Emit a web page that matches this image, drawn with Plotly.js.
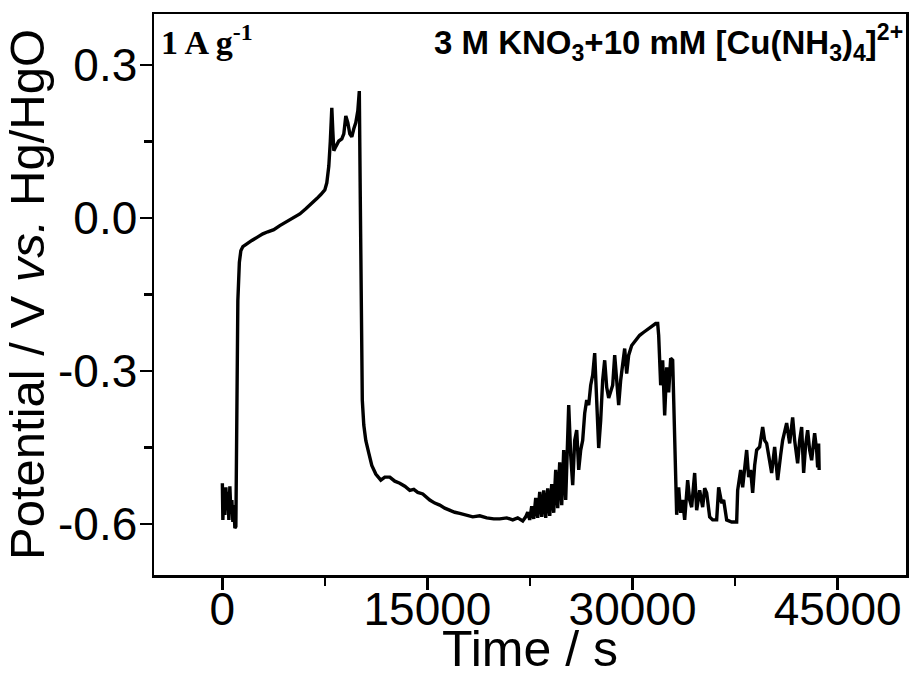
<!DOCTYPE html>
<html>
<head>
<meta charset="utf-8">
<script src="https://cdn.plot.ly/plotly-3.0.1.min.js"></script>
<style>html,body{margin:0;padding:0;background:#fff;}#chart{width:909px;height:677px;}</style>
</head>
<body>
<div id="chart"></div>
<script>
// Time (s)
const time = [
 0, 37, 110, 183, 256, 329, 402, 475, 548, 622, 695, 768, 841, 914, 987,
 1060, 1133, 1243, 1352, 1499, 1791, 2157, 2595, 2961, 3326, 3765, 4204, 4716, 5227, 5666,
 6104, 6543, 6909, 7201, 7493, 7640, 7786, 7896, 8005, 8078, 8151, 8297, 8517, 8736, 8882,
 9028, 9175, 9321, 9467, 9613, 9760, 9906, 10016, 10089, 10162, 10235, 10344, 10490, 10710, 10929,
 11221, 11587, 11880, 12245, 12611, 12976, 13342, 13707, 14000, 14292, 14658, 15169, 15535, 15900, 16266,
 16631, 16997, 17362, 17874, 18312, 18824, 19336, 19848, 20286, 20798, 21237, 21602, 21968, 22187,
 22333, 22479, 22626, 22772, 22918, 23064, 23211, 23357, 23503, 23649, 23795, 23942, 24088, 24234, 24380,
 24526, 24673, 24819, 24965, 25111, 25257, 25331, 25477, 25623, 25769, 25916, 26062, 26208, 26354, 26500,
 26647, 26793, 26939, 27085, 27231, 27378, 27524, 27670, 27816, 27963, 28109, 28255, 28401, 28547, 28694,
 28840, 28986, 29132, 29279, 29425, 29571, 29717, 29937, 30229, 30522, 30814, 31107, 31399, 31691, 31838,
 31911, 32057, 32203, 32350, 32496, 32642, 32788, 32935, 33008, 33154, 33227, 33373, 33519, 33666, 33812,
 34031, 34178, 34324, 34543, 34690, 34909, 35128, 35275, 35421, 35640, 35860, 36152, 36298, 36518, 36664,
 36884, 37249, 37615, 37688, 37907, 38053, 38200, 38346, 38492, 38638, 38785, 38931, 39077, 39296, 39516,
 39662, 39808, 40028, 40174, 40393, 40613, 40832, 40978, 41271, 41490, 41710, 41856, 42075, 42221, 42368,
 42514, 42660, 42806, 42953, 43099, 43318, 43465, 43538, 43611, 43647
];
// Potential (V vs. Hg/HgO)
const potential = [
 -0.520, -0.592, -0.530, -0.582, -0.528, -0.573, -0.537, -0.592, -0.526, -0.577, -0.553, -0.596, -0.563, -0.608, -0.605,
 -0.397, -0.162, -0.087, -0.064, -0.056, -0.050, -0.044, -0.037, -0.031, -0.027, -0.023, -0.015, -0.007, 0.001, 0.008,
 0.018, 0.028, 0.038, 0.046, 0.055, 0.069, 0.102, 0.151, 0.216, 0.171, 0.132, 0.140, 0.151, 0.155, 0.165,
 0.200, 0.187, 0.165, 0.159, 0.175, 0.187, 0.210, 0.249, 0.034, -0.220, -0.357, -0.406, -0.436, -0.461, -0.485,
 -0.502, -0.514, -0.508, -0.508, -0.516, -0.520, -0.526, -0.534, -0.532, -0.538, -0.541, -0.553, -0.559, -0.563, -0.569,
 -0.573, -0.577, -0.579, -0.582, -0.586, -0.584, -0.588, -0.590, -0.590, -0.588, -0.592, -0.588, -0.594, -0.586,
 -0.577, -0.592, -0.565, -0.590, -0.549, -0.588, -0.537, -0.586, -0.534, -0.588, -0.530, -0.584, -0.522, -0.578, -0.494,
 -0.569, -0.479, -0.563, -0.455, -0.553, -0.416, -0.367, -0.465, -0.524, -0.436, -0.416, -0.494, -0.455, -0.436, -0.383,
 -0.357, -0.367, -0.328, -0.308, -0.265, -0.377, -0.451, -0.397, -0.318, -0.279, -0.332, -0.353, -0.338, -0.328, -0.269,
 -0.324, -0.367, -0.318, -0.279, -0.256, -0.305, -0.269, -0.250, -0.240, -0.230, -0.224, -0.218, -0.213, -0.207, -0.207,
 -0.230, -0.328, -0.279, -0.387, -0.293, -0.342, -0.275, -0.279, -0.357, -0.494, -0.582, -0.528, -0.578, -0.553, -0.592,
 -0.514, -0.553, -0.567, -0.500, -0.573, -0.534, -0.567, -0.530, -0.539, -0.586, -0.592, -0.592, -0.528, -0.559, -0.553,
 -0.592, -0.596, -0.596, -0.534, -0.494, -0.528, -0.485, -0.455, -0.508, -0.494, -0.539, -0.485, -0.455, -0.449, -0.410,
 -0.436, -0.442, -0.475, -0.500, -0.449, -0.514, -0.465, -0.436, -0.402, -0.442, -0.391, -0.436, -0.481, -0.436, -0.410,
 -0.500, -0.445, -0.416, -0.455, -0.475, -0.422, -0.455, -0.489, -0.442, -0.494
];
const xTickVals = [0, 15000, 30000, 45000];
const xTickText = ["0", "15000", "30000", "45000"];
const yTickVals = [0.3, 0.0, -0.3, -0.6];
const yTickText = ["0.3", "0.0", "-0.3", "-0.6"];

const trace = {
  x: time, y: potential, type: 'scatter', mode: 'lines',
  line: {color: '#000000', width: 3.4},
  showlegend: false, hoverinfo: 'skip'
};

const axisCommon = {
  showline: true, mirror: true, linecolor: '#000', linewidth: 2.5,
  showgrid: false, zeroline: false,
  ticks: 'outside', ticklen: 12, tickwidth: 2.5, tickcolor: '#000',
  tickfont: {family: 'Liberation Sans, Arial, sans-serif', size: 46, color: '#000'},
  automargin: false
};

const layout = {
  width: 909, height: 677,
  margin: {l: 154, r: 3, t: 14, b: 102},
  paper_bgcolor: '#fff', plot_bgcolor: '#fff',
  font: {family: 'Liberation Sans, Arial, sans-serif', color: '#000'},
  xaxis: Object.assign({}, axisCommon, {
    range: [-5000, 50000], tickmode: 'array', tickvals: xTickVals, ticktext: xTickText,
    ticklabelstandoff: -20,
    minor: {dtick: 7500, tick0: 0, ticks: 'outside', ticklen: 8, tickwidth: 2.5, tickcolor: '#000'},
    title: {text: 'Time / s', font: {size: 50, color: '#000'}, standoff: 6}
  }),
  yaxis: Object.assign({}, axisCommon, {
    range: [-0.7, 0.4], tickmode: 'array', tickvals: yTickVals, ticktext: yTickText,
    ticklabelstandoff: -7,
    minor: {dtick: 0.15, tick0: 0, ticks: 'outside', ticklen: 8, tickwidth: 2.5, tickcolor: '#000'},
    title: {text: 'Potential / V <i>vs.</i> Hg/HgO', font: {size: 49, color: '#000'}, standoff: 0}
  }),
  annotations: [
    {xref: 'paper', yref: 'paper', x: 0.006, y: 0.995, xanchor: 'left', yanchor: 'top',
     text: '<b>1 A g<sup>-1</sup></b>', showarrow: false,
     font: {family: 'Liberation Serif, Times New Roman, serif', size: 34, color: '#000'}},
    {xref: 'paper', yref: 'paper', x: 0.999, y: 0.995, xanchor: 'right', yanchor: 'top',
     text: '<b>3 M KNO<sub>3</sub>+10 mM [Cu(NH<sub>3</sub>)<sub>4</sub>]<sup>2+</sup></b>', showarrow: false,
     font: {family: 'Liberation Sans, Arial, sans-serif', size: 33, color: '#000'}}
  ]
};

Plotly.newPlot('chart', [trace], layout, {displayModeBar: false, staticPlot: true});
</script>
</body>
</html>
